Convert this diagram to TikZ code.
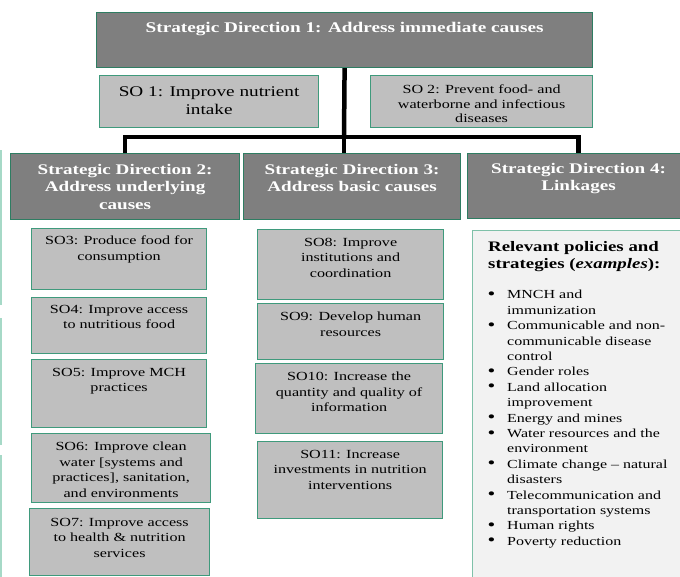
\documentclass[tikz,border=0pt]{standalone}
\usepackage{fontspec}
\setmainfont{Liberation Serif}[FakeStretch=1.3]
\usetikzlibrary{positioning}
\definecolor{dirgray}{HTML}{7F7F7F}
\definecolor{dirline}{HTML}{2E7D62}
\definecolor{objgray}{HTML}{BFBFBF}
\definecolor{objline}{HTML}{3F9A7C}
\definecolor{polfill}{HTML}{F2F2F2}
\definecolor{polline}{HTML}{7FC1A9}
\definecolor{margin}{HTML}{A6D9C7}
\newcommand\polbullet{\hspace{1.5pt}\raisebox{-0.5pt}{\fontsize{17}{17}\selectfont\textbullet}}
\tikzset{
  dirbox/.style={draw=dirline, fill=dirgray, line width=1.2pt, anchor=north west, inner sep=0pt},
  objbox/.style={draw=objline, fill=objgray, line width=1.2pt, anchor=north west, inner sep=0pt},
  polbox/.style={draw=polline, fill=polfill, line width=1.2pt, anchor=north west, inner sep=0pt},
  dirlabel/.style={text=white, font=\fontsize{14.7}{17.5}\selectfont\bfseries, align=center, inner sep=0pt},
  objlabel/.style={font=\fontsize{12.4}{15.5}\selectfont, align=center, inner sep=0pt},
  polhead/.style={font=\fontsize{14.5}{17}\selectfont\bfseries, align=left, inner sep=0pt, anchor=north west},
  pollist/.style={font=\fontsize{12.3}{15.4}\selectfont, inner sep=0pt, anchor=north west},
  trunk/.style={line width=4.5pt, line join=miter, line cap=butt},
  marginline/.style={draw=margin, line width=1.5pt},
}

\begin{document}
\begin{tikzpicture}[x=1pt, y=-1pt]
\useasboundingbox (0,0) rectangle (680,576);
% faint rules at the left edge
\draw[marginline] (1,150) -- (1,305);
\draw[marginline] (1,318) -- (1,445);
\draw[marginline] (1,455) -- (1,580);
% strategic direction 1 and its objectives
\node[dirbox, minimum width=496pt, minimum height=55pt] (sd1) at (96,12) {};
\node[dirlabel, font=\fontsize{14.8}{17.5}\selectfont\bfseries, below=10pt of sd1.north] (sd1txt) {Strategic Direction 1: Address immediate causes};
\node[objbox, minimum width=219pt, minimum height=52pt] (so1) at (99,75) {};
\node[objlabel, font=\fontsize{14.8}{18}\selectfont, below=11pt of so1.north] (so1txt) {SO 1: Improve nutrient\\intake};
\node[objbox, minimum width=222pt, minimum height=52pt] (so2) at (370,75) {};
\node[objlabel, font=\fontsize{12.4}{14.5}\selectfont, below=10pt of so2.north] (so2txt) {SO 2: Prevent food- and\\waterborne and infectious\\diseases};
% strategic directions 2 to 4
\node[dirbox, minimum width=229pt, minimum height=66pt] (sd2) at (10,153) {};
\node[dirlabel, below=11pt of sd2.north] (sd2txt) {Strategic Direction 2:\\Address underlying\\causes};
\node[dirbox, minimum width=217pt, minimum height=66pt] (sd3) at (243,153) {};
\node[dirlabel, below=11pt of sd3.north] (sd3txt) {Strategic Direction 3:\\Address basic causes};
\node[dirbox, minimum width=222pt, minimum height=65pt] (sd4) at (467,153) {};
\node[dirlabel, below=10pt of sd4.north] (sd4txt) {Strategic Direction 4:\\Linkages};
% connectors
\coordinate (hub) at (344,137);
\draw[trunk] (sd1.south) -- (hub);
\draw[trunk] (sd2.north) |- (hub) -| (sd4.north);
\draw[trunk] (hub) -- (hub |- sd3.north);
% objectives under direction 2
\node[objbox, minimum width=175pt, minimum height=61pt] (so3) at (31,228) {};
\node[objlabel, below=8pt of so3.north] (so3txt) {SO3: Produce food for\\consumption};
\node[objbox, minimum width=175pt, minimum height=56pt] (so4) at (31,297) {};
\node[objlabel, below=8pt of so4.north] (so4txt) {SO4: Improve access\\to nutritious food};
\node[objbox, minimum width=175pt, minimum height=68pt] (so5) at (31,359) {};
\node[objlabel, below=9pt of so5.north] (so5txt) {SO5: Improve MCH\\practices};
\node[objbox, minimum width=179pt, minimum height=69pt] (so6) at (31,433) {};
\node[objlabel, below=9pt of so6.north] (so6txt) {SO6: Improve clean\\water [systems and\\practices], sanitation,\\and environments};
\node[objbox, minimum width=180pt, minimum height=67pt] (so7) at (29,508) {};
\node[objlabel, below=10pt of so7.north] (so7txt) {SO7: Improve access\\to health \& nutrition\\services};
% objectives under direction 3
\node[objbox, minimum width=186pt, minimum height=70pt] (so8) at (257,229) {};
\node[objlabel, below=9pt of so8.north] (so8txt) {SO8: Improve\\institutions and\\coordination};
\node[objbox, minimum width=186pt, minimum height=56pt] (so9) at (257,303) {};
\node[objlabel, below=9pt of so9.north] (so9txt) {SO9: Develop human\\resources};
\node[objbox, minimum width=187pt, minimum height=70pt] (so10) at (255,363) {};
\node[objlabel, below=9pt of so10.north] (so10txt) {SO10: Increase the\\quantity and quality of\\information};
\node[objbox, minimum width=185pt, minimum height=77pt] (so11) at (257,441) {};
\node[objlabel, below=9pt of so11.north] (so11txt) {SO11: Increase\\investments in nutrition\\interventions};
% linkages
\node[polbox, minimum width=215pt, minimum height=360pt] (pol) at (472,230) {};
\node[polhead] (polhd) at ([xshift=16pt, yshift=-11pt]pol.north west) {Relevant policies and\\strategies (\textit{examples}):};
\node[pollist] (pollst) at ([xshift=14pt, yshift=-58pt]pol.north west) {%
\begin{tabular}{@{}p{21pt}@{}l@{}}
\polbullet & MNCH and\\
 & immunization\\
\polbullet & Communicable and non-\\
 & communicable disease\\
 & control\\
\polbullet & Gender roles\\
\polbullet & Land allocation\\
 & improvement\\
\polbullet & Energy and mines\\
\polbullet & Water resources and the\\
 & environment\\
\polbullet & Climate change -- natural\\
 & disasters\\
\polbullet & Telecommunication and\\
 & transportation systems\\
\polbullet & Human rights\\
\polbullet & Poverty reduction
\end{tabular}};
\end{tikzpicture}
\end{document}
